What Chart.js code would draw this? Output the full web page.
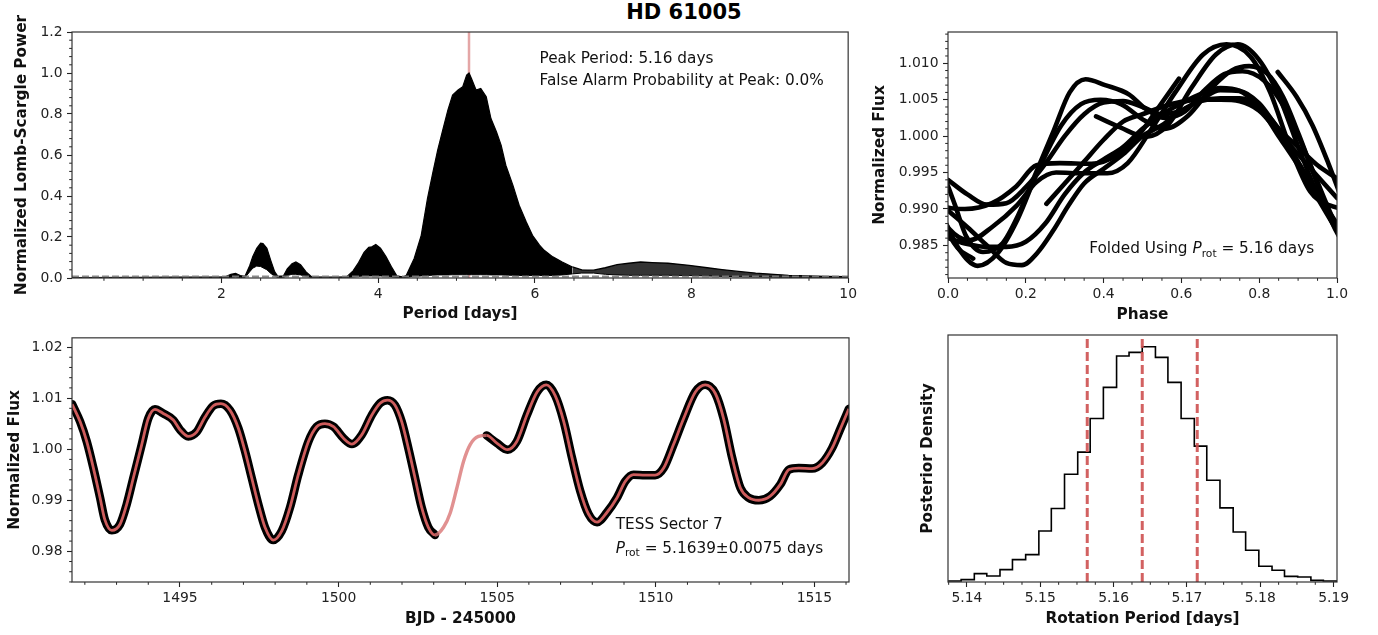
<!DOCTYPE html>
<html>
<head>
<meta charset="utf-8">
<title>HD 61005 rotation</title>
<script src="https://cdn.jsdelivr.net/npm/chart.js@4.4.1/dist/chart.umd.min.js"></script>
<style>
  html, body { margin: 0; padding: 0; background: #fff; }
  #page { position: relative; width: 1378px; height: 635px; overflow: hidden; background: #fff; }
  #page canvas { position: absolute; }
  #title { position: absolute; left: 0; top: 0; width: 1368px; height: 25px; line-height: 25px;
           text-align: center; font: bold 21px "DejaVu Sans", sans-serif; color: #000; }
</style>
</head>
<body>
<div id="page">
  <div id="title">HD 61005</div>
  <canvas id="cPgram" width="860" height="325" style="left:0px;top:0px"></canvas>
  <canvas id="cFold" width="518" height="325" style="left:860px;top:0px"></canvas>
  <canvas id="cLight" width="860" height="310" style="left:0px;top:325px"></canvas>
  <canvas id="cPost" width="518" height="310" style="left:860px;top:325px"></canvas>
</div>
<script>
// ---------------- values ----------------
const peakPeriod = 5.16;       // periodogram peak [days]
const fapPeak = 0.0;           // false alarm probability at peak [%]
const fapLevel = 0.007;        // dashed reference level in the periodogram
const prot = 5.1639;           // posterior median rotation period [days]
const protErr = 0.0075;        // posterior 1-sigma width [days]
const foldEpoch = 1502.706;    // BJD - 245000 of phase zero

// Lomb-Scargle power: upper and lower envelope of the oscillating periodogram
const pgPeriod = [0.092,1.00,1.40,1.80,2.05,2.12,2.18,2.24,2.30,2.36,2.40,2.45,2.50,2.53,2.58,2.63,2.68,2.72,2.79,2.84,2.90,2.95,3.01,3.08,3.15,3.40,3.60,3.68,3.75,3.82,3.88,3.92,3.97,4.03,4.10,4.17,4.24,4.32,4.36,4.46,4.55,4.63,4.70,4.76,4.83,4.89,4.95,5.02,5.08,5.13,5.16,5.19,5.25,5.31,5.38,5.44,5.51,5.57,5.63,5.72,5.80,5.89,5.97,6.06,6.12,6.23,6.35,6.48,6.60,6.75,6.90,7.05,7.20,7.35,7.50,7.70,7.97,8.20,8.39,8.60,8.82,9.05,9.24,9.50,9.70,10.0];
const pgPowerHigh = [0.002,0.003,0.004,0.005,0.006,0.018,0.022,0.012,0.008,0.060,0.105,0.145,0.170,0.168,0.145,0.085,0.030,0.008,0.010,0.045,0.070,0.078,0.065,0.030,0.006,0.005,0.006,0.035,0.075,0.125,0.150,0.152,0.163,0.145,0.105,0.055,0.010,0.005,0.013,0.095,0.208,0.388,0.518,0.624,0.730,0.819,0.892,0.917,0.933,0.990,1.000,0.974,0.917,0.925,0.884,0.778,0.713,0.648,0.550,0.453,0.355,0.274,0.208,0.160,0.135,0.103,0.078,0.054,0.040,0.038,0.050,0.065,0.072,0.078,0.075,0.072,0.062,0.050,0.041,0.032,0.024,0.018,0.013,0.010,0.008,0.007];
const pgPowerLow = [0.000,0.000,0.000,0.000,0.000,0.003,0.005,0.002,0.002,0.030,0.048,0.058,0.056,0.050,0.040,0.022,0.010,0.002,0.002,0.012,0.018,0.018,0.015,0.008,0.002,0.001,0.002,0.005,0.008,0.010,0.010,0.010,0.010,0.010,0.008,0.005,0.003,0.002,0.003,0.008,0.010,0.012,0.014,0.015,0.015,0.015,0.016,0.016,0.016,0.016,0.016,0.016,0.016,0.016,0.016,0.015,0.015,0.015,0.014,0.013,0.012,0.012,0.012,0.012,0.012,0.012,0.015,0.020,0.024,0.024,0.018,0.015,0.013,0.013,0.013,0.013,0.012,0.010,0.008,0.006,0.005,0.004,0.003,0.003,0.003,0.003];
const pgTailStart = 6.48;      // beyond this the fringes are resolved, drawn as a lighter band

// TESS Sector 7 light curve (BJD - 245000, normalized flux); the model also spans the data gap
const lcTime = [1491.60,1491.85,1492.06,1492.27,1492.48,1492.63,1492.85,1493.11,1493.32,1493.53,1493.79,1494.00,1494.21,1494.47,1494.79,1495.00,1495.26,1495.53,1495.79,1496.05,1496.29,1496.58,1496.84,1497.05,1497.26,1497.47,1497.68,1497.94,1498.21,1498.47,1498.73,1499.05,1499.31,1499.57,1499.84,1500.16,1500.42,1500.73,1501.05,1501.31,1501.54,1501.78,1501.99,1502.20,1502.41,1502.62,1502.83,1503.04,1503.31,1503.52,1503.73,1503.94,1504.15,1504.41,1504.67,1504.99,1505.33,1505.62,1505.94,1506.26,1506.55,1506.83,1507.10,1507.36,1507.62,1507.88,1508.15,1508.46,1508.78,1509.04,1509.30,1509.67,1509.98,1510.25,1510.56,1510.88,1511.25,1511.56,1511.88,1512.14,1512.41,1512.67,1512.93,1513.25,1513.61,1513.93,1514.20,1514.51,1514.93,1515.25,1515.56,1515.83,1516.09];
const lcFlux = [1.0088,1.0054,1.0015,0.9963,0.9905,0.9862,0.9841,0.9853,0.9892,0.9944,1.0008,1.0060,1.0078,1.0070,1.0057,1.0038,1.0025,1.0034,1.0063,1.0085,1.0089,1.0076,1.0041,0.9996,0.9944,0.9892,0.9847,0.9822,0.9840,0.9886,0.9950,1.0015,1.0044,1.0050,1.0044,1.0021,1.0010,1.0028,1.0067,1.0090,1.0096,1.0086,1.0054,1.0002,0.9944,0.9886,0.9847,0.9832,0.9847,0.9875,0.9924,0.9976,1.0009,1.0025,1.0027,1.0012,0.9999,1.0015,1.0067,1.0112,1.0126,1.0105,1.0054,0.9983,0.9918,0.9873,0.9857,0.9876,0.9905,0.9937,0.9950,0.9949,0.9949,0.9963,1.0009,1.0060,1.0112,1.0126,1.0109,1.0060,0.9983,0.9924,0.9905,0.9900,0.9908,0.9931,0.9960,0.9963,0.9962,0.9973,1.0002,1.0041,1.0079];
const lcGap = [1503.04, 1504.67];   // no photometry strictly between these times

// further folded photometry (phase, flux) tracks
const extraPhaseA = [0.00,0.05,0.10,0.15,0.20,0.25,0.30,0.35,0.40,0.45,0.50,0.55,0.60,0.65,0.70,0.75,0.80,0.85,0.90,0.95,1.00];
const extraFluxA  = [0.9940,0.9920,0.9906,0.9908,0.9930,0.9962,1.0000,1.0030,1.0046,1.0048,1.0040,1.0030,1.0035,1.0050,1.0063,1.0062,1.0045,1.0010,0.9985,0.9960,0.9942];
const extraPhaseB = [0.00,0.05,0.10,0.15,0.19,0.23,0.27,0.31,0.35,0.40,0.45,0.50,0.55,0.60,0.65,0.70,0.75,0.80,0.85,0.90,0.95,1.00];
const extraFluxB  = [0.9898,0.9875,0.9850,0.9826,0.9823,0.9840,0.9870,0.9905,0.9935,0.9955,0.9975,1.0000,1.0015,1.0035,1.0048,1.0052,1.0052,1.0040,1.0010,0.9965,0.9920,0.9880];
const extraPhaseC = [0.00,0.05,0.10,0.15,0.20,0.25,0.30,0.35,0.40,0.45,0.50,0.55,0.60,0.65,0.70,0.75,0.80,0.85,0.90,0.95,1.00];
const extraFluxC  = [0.9860,0.9852,0.9848,0.9848,0.9855,0.9880,0.9920,0.9950,0.9968,0.9985,1.0010,1.0030,1.0045,1.0058,1.0066,1.0062,1.0040,1.0000,0.9960,0.9915,0.9870];
const extraPhaseD = [0.253,0.30,0.35,0.40,0.45,0.50,0.55,0.60,0.65,0.70,0.75,0.80,0.85,0.90,0.95,1.00];
const extraFluxD  = [0.9907,0.9935,0.9965,0.9995,1.0020,1.0030,1.0040,1.0047,1.0050,1.0050,1.0048,1.0035,1.0005,0.9975,0.9945,0.9915];

// posterior samples of the rotation period, histogram
const binEdges = [5.1374,5.1392,5.1410,5.1427,5.1445,5.1462,5.1480,5.1498,5.1515,5.1533,5.1551,5.1568,5.1586,5.1604,5.1621,5.1639,5.1657,5.1674,5.1692,5.1710,5.1727,5.1745,5.1763,5.1780,5.1798,5.1816,5.1833,5.1851,5.1869,5.1886,5.1904];
const binCounts = [3,7,25,18,37,67,82,153,220,323,389,490,583,677,688,705,673,598,490,407,305,222,150,95,47,35,17,15,5,3];

// axis ticks
const pgTicksX = [2,4,6,8,10];
const pgTicksY = [0,0.2,0.4,0.6,0.8,1.0,1.2];
const foldTicksX = [0,0.2,0.4,0.6,0.8,1.0];
const foldTicksY = [0.985,0.990,0.995,1.000,1.005,1.010];
const lcTicksX = [1495,1500,1505,1510,1515];
const lcTicksY = [0.98,0.99,1.00,1.01,1.02];
const postTicksX = [5.14,5.15,5.16,5.17,5.18,5.19];

// ---------------- styling helpers ----------------
const FAMILY = '"DejaVu Sans", sans-serif';
const RED = '#cd5c5c';
Chart.defaults.font.family = FAMILY;
Chart.defaults.animation = false;
Chart.defaults.events = [];

function steps(a, b, d, skip) {
  const out = [];
  const n = Math.round((b - a) / d);
  for (let i = 0; i <= n; i++) {
    const v = +(a + i * d).toFixed(6);
    if (!skip.some(s => Math.abs(s - v) < d / 10)) out.push(v);
  }
  return out;
}

function axis(o) {
  return {
    type: 'linear', min: o.min, max: o.max,
    afterBuildTicks: s => { s.ticks = (o.major || []).map(v => ({ value: v })); },
    afterFit: s => { if (s.isHorizontal()) s.height = o.size; else s.width = o.size; },
    grid: { display: !!o.major, drawOnChartArea: false, drawTicks: true, tickLength: 5,
            tickWidth: 1.1, tickColor: '#222', color: '#222' },
    border: { display: false },
    ticks: { display: !!o.major, color: '#222', font: { family: FAMILY, size: 13.9 },
             padding: o.horizontal ? 3 : 4.5, maxRotation: 0, autoSkip: false,
             callback: v => v.toFixed(o.dec) },
    title: { display: true, text: o.title, color: '#111',
             font: { family: FAMILY, size: 15.3, weight: 'bold' },
             padding: { top: o.tpad || 0, bottom: o.tpad || 0 } }
  };
}

// frame, minor ticks and in-axes text
const decor = {
  id: 'decor',
  afterDraw(chart, args, opts) {
    const { ctx, chartArea: a, scales } = chart;
    ctx.save();
    ctx.strokeStyle = '#222'; ctx.lineWidth = 1.0;
    ctx.beginPath();
    (opts.minorX || []).forEach(v => {
      const x = scales.x.getPixelForValue(v);
      ctx.moveTo(x, a.bottom); ctx.lineTo(x, a.bottom + 2.8);
    });
    (opts.minorY || []).forEach(v => {
      const y = scales.y.getPixelForValue(v);
      ctx.moveTo(a.left - 2.8, y); ctx.lineTo(a.left, y);
    });
    ctx.stroke();
    ctx.strokeStyle = '#333'; ctx.lineWidth = 1.2;
    ctx.strokeRect(a.left, a.top, a.right - a.left, a.bottom - a.top);
    ctx.fillStyle = '#111'; ctx.textBaseline = 'alphabetic'; ctx.textAlign = 'left';
    (opts.texts || []).forEach(t => {
      let x = a.left + t.fx * (a.right - a.left);
      const y = a.top + t.fy * (a.bottom - a.top);
      const size = 15.3;
      t.runs.forEach(r => {
        const s = r.sub ? size * 0.7 : size;
        ctx.font = (r.italic ? 'italic ' : '') + s + 'px ' + FAMILY;
        ctx.fillText(r.text, x, y + (r.sub ? size * 0.22 : 0));
        x += ctx.measureText(r.text).width;
      });
    });
    ctx.restore();
  }
};

const basePlugins = { legend: { display: false }, tooltip: { enabled: false } };
const pts = (xs, ys) => xs.map((x, i) => ({ x, y: ys[i] }));

// ---------------- periodogram ----------------
const pgCore = pgPeriod.map((p, i) => i).filter(i => pgPeriod[i] <= pgTailStart);
const pgTail = pgPeriod.map((p, i) => i).filter(i => pgPeriod[i] >= pgTailStart);
const pick = (idx, ys) => idx.map(i => ({ x: pgPeriod[i], y: ys[i] }));

new Chart(document.getElementById('cPgram'), {
  type: 'line',
  data: { datasets: [
    { data: [{ x: 0.092, y: fapLevel }, { x: 10, y: fapLevel }], borderColor: 'rgba(125,125,125,0.9)',
      borderWidth: 2, borderDash: [7, 3], pointRadius: 0 },
    { data: pick(pgCore, pgPowerHigh), borderColor: '#000', borderWidth: 1.2, pointRadius: 0,
      fill: '+1', backgroundColor: '#000' },
    { data: pick(pgCore, pgPowerLow), borderColor: '#000', borderWidth: 1.0, pointRadius: 0 },
    { data: pick(pgTail, pgPowerHigh), borderColor: '#000', borderWidth: 1.3, pointRadius: 0,
      fill: '+1', backgroundColor: 'rgba(0,0,0,0.8)' },
    { data: pick(pgTail, pgPowerLow), borderColor: '#000', borderWidth: 1.0, pointRadius: 0 },
    { data: [{ x: peakPeriod, y: 0 }, { x: peakPeriod, y: 1.2 }], borderColor: 'rgba(205,92,92,0.55)',
      borderWidth: 2.5, pointRadius: 0 }
  ]},
  options: {
    responsive: false, maintainAspectRatio: false,
    layout: { padding: { left: 0, top: 32, right: 11, bottom: 0 } },
    scales: {
      x: axis({ min: 0.092, max: 10, major: pgTicksX, dec: 0, size: 47, horizontal: true,
                title: 'Period [days]', tpad: 1.4 }),
      y: axis({ min: 0, max: 1.2, major: pgTicksY, dec: 1, size: 72,
                title: 'Normalized Lomb-Scargle Power', tpad: 12.6 })
    },
    plugins: { ...basePlugins, filler: { propagate: false },
      decor: { minorX: steps(0.5, 9.5, 0.5, pgTicksX), minorY: steps(0, 1.2, 0.04, pgTicksY),
        texts: [
          { fx: 0.6023, fy: 0.125, runs: [{ text: 'Peak Period: ' + peakPeriod.toFixed(2) + ' days' }] },
          { fx: 0.6023, fy: 0.216, runs: [{ text: 'False Alarm Probability at Peak: ' + fapPeak.toFixed(1) + '%' }] }
        ] } }
  },
  plugins: [decor]
});

// ---------------- folded light curve ----------------
const observed = lcTime.map((t, i) => ({ t, f: lcFlux[i] }))
  .filter(p => !(p.t > lcGap[0] && p.t < lcGap[1]));

function foldCycles(points, period, epoch) {
  const kMin = Math.floor((points[0].t - epoch) / period);
  const kMax = Math.floor((points[points.length - 1].t - epoch) / period);
  const out = [];
  for (let k = kMin; k <= kMax; k++) {
    let seg = [];
    let prevT = null;
    points.forEach(p => {
      const raw = (p.t - epoch) / period;
      if (raw < k - 0.15 || raw > k + 1.15) return;
      if (prevT !== null && p.t - prevT > 0.5) { if (seg.length > 1) out.push(seg); seg = []; }
      seg.push({ x: raw - k, y: p.f });
      prevT = p.t;
    });
    if (seg.length > 1) out.push(seg);
  }
  return out;
}

const foldStyle = { borderColor: '#000', borderWidth: 4.6, pointRadius: 0, cubicInterpolationMode: 'monotone',
                    borderCapStyle: 'round', borderJoinStyle: 'round', clip: 0 };
const foldSets = foldCycles(observed, peakPeriod, foldEpoch).map(seg => ({ data: seg, ...foldStyle }));
[[extraPhaseA, extraFluxA], [extraPhaseB, extraFluxB], [extraPhaseC, extraFluxC], [extraPhaseD, extraFluxD]]
  .forEach(([ph, fl]) => foldSets.push({ data: pts(ph, fl), ...foldStyle }));

new Chart(document.getElementById('cFold'), {
  type: 'line',
  data: { datasets: foldSets },
  options: {
    responsive: false, maintainAspectRatio: false,
    layout: { padding: { left: 0, top: 32, right: 41, bottom: 0 } },
    scales: {
      x: axis({ min: 0, max: 1, major: foldTicksX, dec: 1, size: 47, horizontal: true, title: 'Phase', tpad: 0.6 }),
      y: axis({ min: 0.98053, max: 1.01429, major: foldTicksY, dec: 3, size: 88, title: 'Normalized Flux', tpad: 10.5 })
    },
    plugins: { ...basePlugins,
      decor: { minorX: steps(0, 1, 0.05, foldTicksX), minorY: steps(0.981, 1.014, 0.001, foldTicksY),
        texts: [{ fx: 0.363, fy: 0.899, runs: [
          { text: 'Folded Using ' }, { text: 'P', italic: true }, { text: 'rot', sub: true },
          { text: ' = ' + peakPeriod.toFixed(2) + ' days' }] }] } }
  },
  plugins: [decor]
});

// ---------------- light curve ----------------
const lcModel = pts(lcTime, lcFlux);
const lcData = [];
lcTime.forEach((t, i) => {
  if (t > lcGap[0] && t < lcGap[1]) {
    if (lcData.length && lcData[lcData.length - 1].y !== null) lcData.push({ x: t, y: null });
  } else lcData.push({ x: t, y: lcFlux[i] });
});
const inGap = c => c.p0.parsed.x >= lcGap[0] && c.p1.parsed.x <= lcGap[1];

new Chart(document.getElementById('cLight'), {
  type: 'line',
  data: { datasets: [
    { data: lcModel, borderColor: RED, borderWidth: 2.8, pointRadius: 0, cubicInterpolationMode: 'monotone',
      segment: { borderColor: c => inGap(c) ? 'rgba(218,118,118,0.8)' : undefined,
                 borderWidth: c => inGap(c) ? 3.4 : undefined }, clip: 0 },
    { data: lcData, borderColor: '#000', borderWidth: 8.5, pointRadius: 0, cubicInterpolationMode: 'monotone',
      spanGaps: false, borderCapStyle: 'round', borderJoinStyle: 'round', clip: 0 }
  ]},
  options: {
    responsive: false, maintainAspectRatio: false,
    layout: { padding: { left: 0, top: 10, right: 11, bottom: 0 } },
    scales: {
      x: axis({ min: 1491.595, max: 1516.094, major: lcTicksX, dec: 0, size: 53, horizontal: true,
                title: 'BJD - 245000', tpad: 6.8 }),
      y: axis({ min: 0.97399, max: 1.0218, major: lcTicksY, dec: 2, size: 72, title: 'Normalized Flux', tpad: 6.2 })
    },
    plugins: { ...basePlugins,
      decor: { minorX: steps(1492, 1516, 1, lcTicksX), minorY: steps(0.974, 1.020, 0.002, lcTicksY),
        texts: [
          { fx: 0.6997, fy: 0.784, runs: [{ text: 'TESS Sector 7' }] },
          { fx: 0.6997, fy: 0.880, runs: [{ text: 'P', italic: true }, { text: 'rot', sub: true },
            { text: ' = ' + prot.toFixed(4) + '\u00b1' + protErr.toFixed(4) + ' days' }] }
        ] } }
  },
  plugins: [decor]
});

// ---------------- posterior of the rotation period ----------------
const histLine = [{ x: binEdges[0], y: 0 }];
binCounts.forEach((c, i) => histLine.push({ x: binEdges[i], y: c }));
histLine.push({ x: binEdges[binEdges.length - 1], y: 0 });
const yTop = 740;
const vline = x => ({ data: [{ x, y: 0 }, { x, y: yTop }], borderColor: 'rgba(205,80,80,0.9)', borderWidth: 3,
                      borderDash: [9, 4], pointRadius: 0 });

new Chart(document.getElementById('cPost'), {
  type: 'line',
  data: { datasets: [
    vline(prot - protErr), vline(prot), vline(prot + protErr),
    { data: histLine, borderColor: '#000', borderWidth: 1.6, pointRadius: 0, stepped: true }
  ]},
  options: {
    responsive: false, maintainAspectRatio: false,
    layout: { padding: { left: 0, top: 10, right: 41, bottom: 0 } },
    scales: {
      x: axis({ min: 5.13741, max: 5.19046, major: postTicksX, dec: 2, size: 53, horizontal: true,
                title: 'Rotation Period [days]', tpad: 6.6 }),
      y: axis({ min: 0, max: yTop, major: null, dec: 0, size: 88, title: 'Posterior Density', tpad: 59.3 })
    },
    plugins: { ...basePlugins,
      decor: { minorX: steps(5.1375, 5.19, 0.0025, postTicksX) } }
  },
  plugins: [decor]
});
</script>
</body>
</html>
